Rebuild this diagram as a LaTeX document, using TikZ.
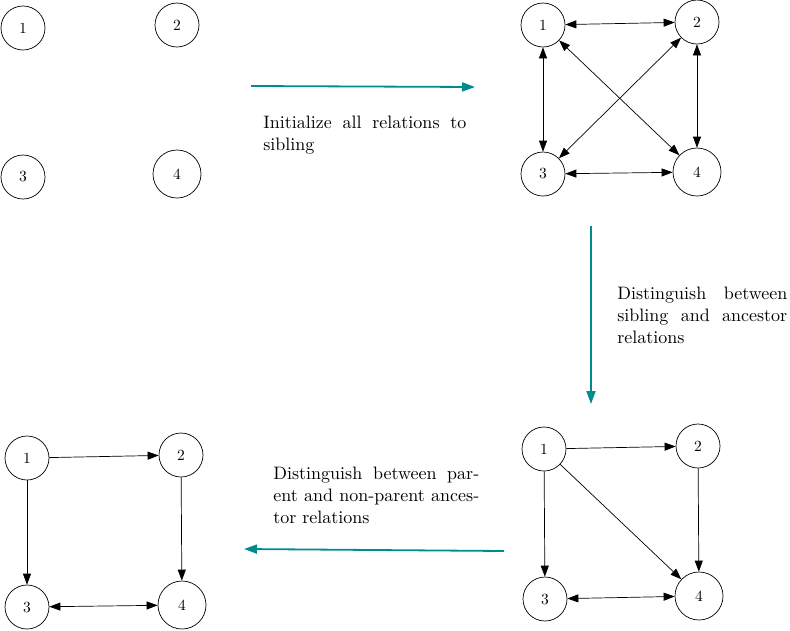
\documentclass[tikz,border=0pt]{standalone}
\usetikzlibrary{arrows.meta}
\definecolor{tealarrow}{RGB}{0,140,140}
\newcommand{\vlab}[1]{\scalebox{1.55}{#1}}
\tikzset{
  vert/.style={draw, circle, line width=0.7pt, minimum size=44pt, inner sep=0pt, font=\normalsize},
  bigvert/.style={vert, minimum size=48pt},
  dbl/.style={line width=0.7pt, {Triangle[length=11pt,width=8pt]}-{Triangle[length=11pt,width=8pt]}},
  one/.style={line width=0.7pt, -{Triangle[length=11pt,width=8pt]}},
  stagearrow/.style={tealarrow, line width=1.8pt, -{Triangle[length=13pt,width=9pt]}},
  caption/.style={anchor=north west, inner sep=0pt, align=left, font=\normalsize, scale=1.8, transform shape}
}
\begin{document}
\begin{tikzpicture}[x=1pt,y=-1pt]
\useasboundingbox (0,0) rectangle (790,630);
% group A: isolated nodes
\node[vert] (a1) at (23,28) {\vlab{1}};
\node[vert] (a2) at (177,25) {\vlab{2}};
\node[vert] (a3) at (23,177) {\vlab{3}};
\node[bigvert] (a4) at (177,174) {\vlab{4}};
% group B: all siblings
\node[vert] (b1) at (543,25) {\vlab{1}};
\node[vert] (b2) at (697,22) {\vlab{2}};
\node[vert] (b3) at (543,174) {\vlab{3}};
\node[bigvert] (b4) at (697,172) {\vlab{4}};
\draw[dbl] (b1) -- (b2);
\draw[dbl] (b1) -- (b3);
\draw[dbl] (b1) -- (b4);
\draw[dbl] (b2) -- (b3);
\draw[dbl] (b2) -- (b4);
\draw[dbl] (b3) -- (b4);
% group C: sibling vs ancestor
\node[vert] (c1) at (544,449) {\vlab{1}};
\node[vert] (c2) at (698,446) {\vlab{2}};
\node[vert] (c3) at (545,599) {\vlab{3}};
\node[bigvert] (c4) at (699,596) {\vlab{4}};
\draw[one] (c1) -- (c2);
\draw[one] (c1) -- (c3);
\draw[one] (c1) -- (c4);
\draw[one] (c2) -- (c4);
\draw[dbl] (c3) -- (c4);
% group D: parent vs non-parent
\node[vert] (d1) at (27,458) {\vlab{1}};
\node[vert] (d2) at (181,455) {\vlab{2}};
\node[vert] (d3) at (27,607) {\vlab{3}};
\node[bigvert] (d4) at (182,605) {\vlab{4}};
\draw[one] (d1) -- (d2);
\draw[one] (d1) -- (d3);
\draw[one] (d2) -- (d4);
\draw[dbl] (d3) -- (d4);
% stage arrows
\coordinate (s1a) at (251,86);
\coordinate (s1b) at (475,87);
\coordinate (s2a) at (591,226);
\coordinate (s2b) at (591,404);
\coordinate (s3a) at (504,551);
\coordinate (s3b) at (244,549);
\draw[stagearrow] (s1a) -- (s1b);
\draw[stagearrow] (s2a) -- (s2b);
\draw[stagearrow] (s3a) -- (s3b);
% captions
\node[caption] (t1) at (263,116) {\makebox[112.8pt][s]{Initialize all relations to}\\sibling};
\node[caption] (t2) at (617,287) {\makebox[94.4pt][s]{Distinguish between}\\\makebox[94.4pt][s]{sibling and ancestor}\\relations};
\node[caption] (t3) at (273,467) {\makebox[114.4pt][s]{Distinguish between par-}\\\makebox[114.4pt][s]{ent and non-parent ances-}\\tor relations};
\end{tikzpicture}
\end{document}
